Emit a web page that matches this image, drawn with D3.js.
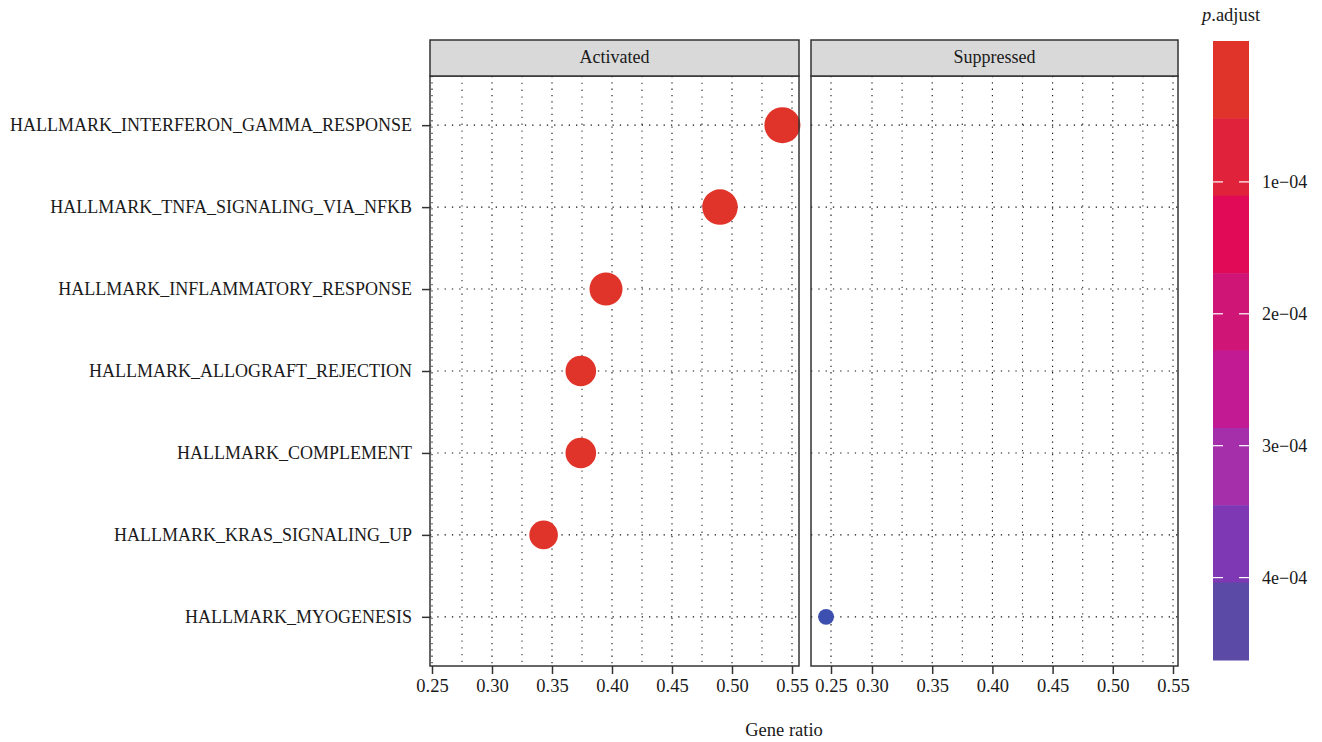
<!DOCTYPE html>
<html>
<head>
<meta charset="utf-8">
<script src="https://cdn.jsdelivr.net/npm/d3@7"></script>
<style>
  body { margin: 0; background: #fff; }
  text { font-family: "Liberation Serif", "DejaVu Serif", serif; fill: #1a1a1a; }
</style>
</head>
<body>
<div id="vis"></div>
<script>
const FRAME_WIDTH = 1322;
const FRAME_HEIGHT = 742;

// data
const TERMS = ["HALLMARK_INTERFERON_GAMMA_RESPONSE", "HALLMARK_TNFA_SIGNALING_VIA_NFKB",
  "HALLMARK_INFLAMMATORY_RESPONSE", "HALLMARK_ALLOGRAFT_REJECTION", "HALLMARK_COMPLEMENT",
  "HALLMARK_KRAS_SIGNALING_UP", "HALLMARK_MYOGENESIS"];
const GROUPS = ["Activated", "Activated", "Activated", "Activated", "Activated", "Activated", "Suppressed"];
const GENE_RATIO = [0.542, 0.49, 0.395, 0.374, 0.374, 0.343, 0.244];
const COUNTS = [108, 105, 91, 78, 78, 68, 21];
const P_ADJUST = [2.0e-9, 3.1e-9, 6.5e-9, 9.0e-9, 1.1e-8, 2.4e-8, 4.64e-4];

const PANELS = ["Activated", "Suppressed"];
const X_TICKS = [0.25, 0.30, 0.35, 0.40, 0.45, 0.50, 0.55];
const X_MINOR = [0.275, 0.325, 0.375, 0.425, 0.475, 0.525];
const P_TICKS = [1e-4, 2e-4, 3e-4, 4e-4];
const P_TICK_LABELS = ["1e\u221204", "2e\u221204", "3e\u221204", "4e\u221204"];
const COLOR_STOPS = ["#e0332a", "#e0233b", "#e00a57", "#cf1677", "#c11a93", "#a52fab", "#7f38b3", "#5b4ba6", "#3d50b0"];

const data = TERMS.map((t, i) => ({term: t, group: GROUPS[i], ratio: GENE_RATIO[i], count: COUNTS[i], p: P_ADJUST[i]}));

const svg = d3.select("#vis").append("svg")
  .attr("width", FRAME_WIDTH)
  .attr("height", FRAME_HEIGHT);

const PANEL_TOP = 76, PANEL_BOTTOM = 666, STRIP_TOP = 40;
const PANEL_X = {Activated: [430, 799], Suppressed: [811, 1178]};

// each facet has its own x scale as drawn in the figure
const X_SCALES = {
  Activated: d3.scaleLinear().domain([0.25, 0.55]).range([432, 792]),
  Suppressed: d3.scaleLinear().domain([0.25, 0.30, 0.55]).range([831, 872, 1173])
};

const Y_SCALE = d3.scalePoint().domain(TERMS).range([PANEL_TOP, PANEL_BOTTOM]).padding(0.6);

const pMin = d3.min(P_ADJUST), pMax = d3.max(P_ADJUST);
const COLOR = d3.scaleLinear()
  .domain(COLOR_STOPS.map((c, i) => pMin + i / (COLOR_STOPS.length - 1) * (pMax - pMin)))
  .range(COLOR_STOPS);
const SIZE = d3.scaleSqrt().domain([0, d3.max(COUNTS)]).range([0, 18]);

PANELS.forEach((panel) => {
  const [x0, x1] = PANEL_X[panel];
  const xs = X_SCALES[panel];
  const g = svg.append("g");

  // grid: vertical major + minor, horizontal per term
  g.selectAll(".vmajor").data(X_TICKS).enter().append("line")
    .attr("x1", d => xs(d)).attr("x2", d => xs(d))
    .attr("y1", PANEL_TOP).attr("y2", PANEL_BOTTOM)
    .attr("stroke", "#111").attr("stroke-width", 1.1).attr("stroke-dasharray", "1.3,5");
  g.selectAll(".vminor").data(X_MINOR.filter(d => panel === "Activated" || d > 0.3)).enter().append("line")
    .attr("x1", d => xs(d)).attr("x2", d => xs(d))
    .attr("y1", PANEL_TOP).attr("y2", PANEL_BOTTOM)
    .attr("stroke", "#333").attr("stroke-width", 1.1).attr("stroke-dasharray", "1.3,5.5");
  g.selectAll(".hgrid").data(TERMS).enter().append("line")
    .attr("x1", x0).attr("x2", x1)
    .attr("y1", d => Y_SCALE(d)).attr("y2", d => Y_SCALE(d))
    .attr("stroke", "#111").attr("stroke-width", 1.1).attr("stroke-dasharray", "1.3,6");

  // points
  g.selectAll("circle").data(data.filter(d => d.group === panel)).enter().append("circle")
    .attr("cx", d => xs(d.ratio))
    .attr("cy", d => Y_SCALE(d.term))
    .attr("r", d => SIZE(d.count))
    .attr("fill", d => COLOR(d.p));

  // panel border
  g.append("rect")
    .attr("x", x0).attr("y", PANEL_TOP)
    .attr("width", x1 - x0).attr("height", PANEL_BOTTOM - PANEL_TOP)
    .attr("fill", "none").attr("stroke", "#333").attr("stroke-width", 1.5);

  // strip
  g.append("rect")
    .attr("x", x0).attr("y", STRIP_TOP)
    .attr("width", x1 - x0).attr("height", PANEL_TOP - STRIP_TOP)
    .attr("fill", "#d9d9d9").attr("stroke", "#333").attr("stroke-width", 1.5);
  g.append("text")
    .attr("x", (x0 + x1) / 2).attr("y", STRIP_TOP + 23)
    .attr("text-anchor", "middle").attr("font-size", "18px")
    .text(panel);

  // x axis
  const ax = svg.append("g")
    .attr("transform", "translate(0," + PANEL_BOTTOM + ")")
    .call(d3.axisBottom(xs).tickValues(X_TICKS).tickFormat(d3.format(".2f")).tickSize(8).tickPadding(5));
  ax.select(".domain").remove();
  ax.selectAll(".tick line").attr("stroke", "#333").attr("stroke-width", 1.5);
  ax.selectAll(".tick text").attr("font-size", "18.5px").attr("font-family", "Liberation Serif").attr("fill", "#1a1a1a");
});

// y axis on the left panel
const ay = svg.append("g")
  .attr("transform", "translate(" + PANEL_X.Activated[0] + ",0)")
  .call(d3.axisLeft(Y_SCALE).tickSize(8).tickPadding(10));
ay.select(".domain").remove();
ay.selectAll(".tick line").attr("stroke", "#333").attr("stroke-width", 1.5);
ay.selectAll(".tick text").attr("font-size", "18px").attr("font-family", "Liberation Serif").attr("fill", "#1a1a1a");

svg.append("text")
  .attr("x", 784).attr("y", 736)
  .attr("text-anchor", "middle").attr("font-size", "18.5px")
  .text("Gene ratio");

// colour bar legend
const BAR_X = 1213, BAR_W = 36, BAR_TOP = 41, BAR_BOTTOM = 660;
const BAR_Y = d3.scaleLinear().domain([pMin, pMax]).range([50, 662]);
const nBands = COLOR_STOPS.length - 1;
const BAND_Y = d3.scaleBand().domain(d3.range(nBands)).range([BAR_TOP, BAR_BOTTOM]);

svg.selectAll(".band").data(d3.range(nBands)).enter().append("rect")
  .attr("x", BAR_X).attr("width", BAR_W)
  .attr("y", d => BAND_Y(d))
  .attr("height", BAND_Y.bandwidth() + 0.5)
  .attr("fill", d => COLOR(COLOR.domain()[d]));

svg.selectAll(".ptickl").data(P_TICKS).enter().append("line")
  .attr("x1", BAR_X).attr("x2", BAR_X + 10)
  .attr("y1", d => BAR_Y(d)).attr("y2", d => BAR_Y(d))
  .attr("stroke", "#fff").attr("stroke-width", 1.2);
svg.selectAll(".ptickr").data(P_TICKS).enter().append("line")
  .attr("x1", BAR_X + BAR_W - 10).attr("x2", BAR_X + BAR_W)
  .attr("y1", d => BAR_Y(d)).attr("y2", d => BAR_Y(d))
  .attr("stroke", "#fff").attr("stroke-width", 1.2);
svg.selectAll(".plab").data(P_TICKS).enter().append("text")
  .attr("x", BAR_X + BAR_W + 13)
  .attr("y", d => BAR_Y(d))
  .attr("dy", "0.35em")
  .attr("font-size", "18px")
  .text((d, i) => P_TICK_LABELS[i]);

const title = svg.append("text")
  .attr("x", 1202).attr("y", 21)
  .attr("font-size", "18.5px");
title.append("tspan").attr("font-style", "italic").text("p");
title.append("tspan").text(".adjust");
</script>
</body>
</html>
